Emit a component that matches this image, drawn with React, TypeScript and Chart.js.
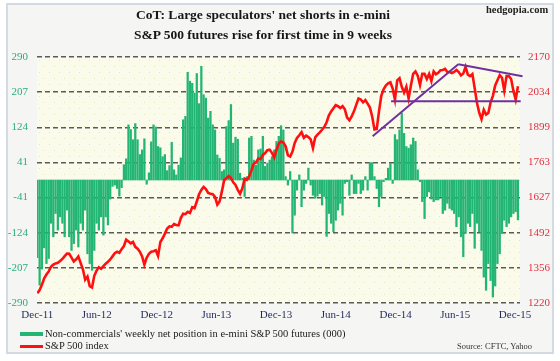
import React, { useEffect, useRef } from 'react';
import { Chart, registerables } from 'chart.js';

Chart.register(...registerables);

// Weekly net position of non-commercials in e-mini S&P 500 futures (000 contracts)
const NET_POSITION: number[] = [
  -183, -248, -210, -160, -197, -185, -102, -134, -79, -118,
  -87, -102, -134, -71, -134, -166, -150, -118, -158, -102,
  -118, -71, -174, -197, -213, -166, -102, -118, -87, -130,
  -87, -106, -45, -15, -12, -20, -38, -18, 36, 50,
  130, 119, 95, 133, 95, 60, 71, 97, -10, 17,
  90, 130, 125, 79, 76, 55, 60, 22, 34, 89,
  24, 12, 35, 52, 142, 150, 254, 233, 228, 205,
  251, 180, 268, 201, 193, 146, 162, 130, 118, 59,
  51, 20, 24, 126, 140, 178, 87, 101, 96, 16,
  4, -39, 8, 99, 103, 47, 35, 71, 73, 103,
  32, 40, 47, 55, 71, 91, 103, 128, 118, 8,
  -12, 20, -125, -83, -24, 12, -63, -24, -8, 28,
  -12, -36, -43, -38, -32, -59, -39, -133, -79, -102,
  -122, -95, -71, -55, -83, -8, -4, -36, 12, -32,
  -32, -8, -32, -24, 8, -24, 41, 41, 8, -20,
  -63, -39, -4, 4, 28, 39, -8, 107, 95, 118,
  158, 110, 79, 75, 83, 99, 91, 24, -4, -51,
  -91, -39, -28, -45, -51, -47, -47, -39, -79, -71,
  -55, -67, -71, -79, -110, -87, -134, -181, -126, -102,
  -110, -79, -161, -102, -122, -166, -229, -260, -197, -237,
  -276, -250, -197, -174, -126, -95, -110, -102, -87, -79,
  -75, -94,
];

// Weekly S&P 500 index
const SP500: number[] = [
  1258, 1270, 1290, 1315, 1330, 1342, 1360, 1368, 1373, 1375,
  1382, 1390, 1401, 1411, 1410, 1395, 1380, 1388, 1400, 1375,
  1350, 1310, 1322, 1285, 1280, 1325, 1345, 1358, 1352, 1362,
  1372, 1379, 1388, 1400, 1412, 1418, 1414, 1428, 1440, 1465,
  1458, 1450, 1456, 1437, 1430, 1418, 1400, 1368, 1395, 1410,
  1418, 1420, 1424, 1402, 1455, 1470, 1488, 1508, 1516, 1514,
  1525, 1521, 1520, 1548, 1565, 1563, 1572, 1568, 1590, 1586,
  1612, 1640, 1657, 1668, 1660, 1645, 1642, 1640, 1630, 1600,
  1612, 1650, 1694, 1702, 1710, 1702, 1686, 1676, 1657, 1642,
  1663, 1700, 1696, 1709, 1732, 1758, 1763, 1778, 1776, 1792,
  1799, 1810, 1812, 1800, 1782, 1812, 1836, 1844, 1840, 1825,
  1790, 1786, 1805, 1838, 1857, 1868, 1880, 1858, 1866, 1861,
  1852, 1818, 1860, 1870, 1879, 1889, 1900, 1918, 1945, 1960,
  1972, 1984, 1980, 1973, 1980, 1968, 1936, 1926, 1941, 1960,
  1985, 2010, 2006, 1995, 2004, 1990, 1975, 1940, 1890, 1892,
  1960, 2020, 2045, 2060, 2068, 2072, 2048, 2005, 2080, 2088,
  2055, 2032, 2055, 2010, 2060, 2105, 2114, 2098, 2062, 2105,
  2105, 2085, 2105, 2077, 2114, 2103, 2109, 2119, 2120, 2124,
  2112, 2112, 2108, 2112, 2120, 2112, 2099, 2106, 2132, 2102,
  2096, 2104, 2050, 1993, 1955, 1930, 1966, 1948, 1954, 1995,
  2020, 2060, 2080, 2100, 2090, 2040, 2096, 2096, 2085, 2040,
  2006, 2057,
];

// x-axis labels and their positions (in weeks from the first observation)
const X_TICK_LABELS = ['Dec-11', 'Jun-12', 'Dec-12', 'Jun-13', 'Dec-13', 'Jun-14', 'Dec-14', 'Jun-15', 'Dec-15'];
const X_TICK_WEEKS = [0, 26.1, 52.4, 78.6, 104.8, 131, 157.3, 183.5, 209.7];

// y-axis tick labels (bottom to top)
const LEFT_TICK_LABELS = ['-290', '-207', '-124', '-41', '41', '124', '207', '290'];
const RIGHT_TICK_LABELS = ['1220', '1356', '1492', '1627', '1763', '1899', '2034', '2170'];
const LEFT_MIN = -290;
const LEFT_MAX = 290;
const RIGHT_MIN = 1220;
const RIGHT_MAX = 2170;

// hand-drawn trend lines on the S&P 500 (week index, index level)
const TREND_RISING: [number, number][] = [[147.2, 1864], [184.8, 2142]];
const TREND_FALLING: [number, number][] = [[184.8, 2142], [213, 2096]];
const TREND_SUPPORT: [number, number][] = [[155.3, 1999], [212.2, 1999]];

const GREEN = '#22B573';
const RED = '#FF1010';
const PURPLE = '#7030A0';
const GRID = '#5A5A5A';
const FONT = "'Liberation Serif', 'Times New Roman', serif";

function evenTicks(labels: string[], min: number, max: number) {
  return labels.map((_, k) => ({ value: min + (k * (max - min)) / (labels.length - 1) }));
}

export default function App() {
  const canvasRef = useRef<HTMLCanvasElement | null>(null);

  useEffect(() => {
    const canvas = canvasRef.current;
    if (!canvas) return;
    Chart.defaults.font.family = FONT;

    const plotDecor = {
      id: 'plotDecor',
      beforeDraw: (chart: any) => {
        const ctx = chart.ctx;
        const a = chart.chartArea;
        ctx.save();
        ctx.fillStyle = '#FBFBEC';
        ctx.fillRect(a.left, a.top, a.right - a.left, a.bottom - a.top);
        ctx.fillStyle = '#E6E6BA';
        let r = 0;
        for (let y = a.top + 3; y < a.bottom; y += 6, r++) {
          for (let x = a.left + 2 + (r % 2) * 5; x < a.right; x += 10) {
            ctx.fillRect(x, y, 1, 1);
          }
        }
        ctx.restore();
      },
    };

    const lineDs = (pts: [number, number][], label: string) => ({
      type: 'line' as const,
      label,
      data: pts.map(([x, y]) => ({ x, y })),
      borderColor: PURPLE,
      backgroundColor: PURPLE,
      borderWidth: 2,
      pointRadius: 0,
      yAxisID: 'y1',
      order: 0,
      clip: false as any,
    });

    const chart = new Chart(canvas, {
      type: 'bar',
      data: {
        datasets: [
          lineDs(TREND_RISING, 'rising trend'),
          lineDs(TREND_FALLING, 'falling trend'),
          lineDs(TREND_SUPPORT, 'support'),
          {
            type: 'line',
            label: 'S&P 500 index',
            data: SP500.map((v, i) => ({ x: i, y: v })),
            borderColor: RED,
            backgroundColor: RED,
            borderWidth: 2.6,
            pointRadius: 0,
            tension: 0,
            yAxisID: 'y1',
            order: 1,
          } as any,
          {
            type: 'bar',
            label: "Non-commercials' weekly net position in e-mini S&P 500 futures (000)",
            data: NET_POSITION.map((v, i) => ({ x: i, y: v })),
            backgroundColor: GREEN,
            borderWidth: 0,
            barThickness: 1.6,
            yAxisID: 'y',
            order: 2,
          } as any,
        ],
      },
      options: {
        responsive: false,
        animation: false,
        events: [],
        layout: { padding: { top: 57, left: 0, right: 0, bottom: 0 } },
        plugins: {
          legend: { display: false },
          title: { display: false },
          tooltip: { enabled: false },
        },
        scales: {
          x: {
            type: 'linear',
            min: -0.15,
            max: 211.9,
            offset: false,
            grid: { display: false, drawTicks: false },
            border: { display: false },
            afterBuildTicks: (s: any) => {
              s.ticks = X_TICK_WEEKS.map((v) => ({ value: v }));
            },
            afterFit: (s: any) => {
              s.height = 58;
            },
            ticks: {
              autoSkip: false,
              maxRotation: 0,
              padding: 6,
              color: '#1F2A5C',
              font: { size: 11, family: FONT },
              callback: (_v: any, i: number) => X_TICK_LABELS[i],
            },
          },
          y: {
            position: 'left',
            min: LEFT_MIN,
            max: LEFT_MAX,
            afterBuildTicks: (s: any) => {
              s.ticks = evenTicks(LEFT_TICK_LABELS, LEFT_MIN, LEFT_MAX);
            },
            afterFit: (s: any) => {
              s.width = 37;
            },
            grid: {
              display: true,
              drawOnChartArea: true,
              drawTicks: false,
              color: GRID,
              lineWidth: 1.5,
            },
            border: { display: false, dash: [5, 3] },
            ticks: {
              padding: 9,
              color: '#2EAD78',
              font: { size: 11, family: FONT },
              callback: (_v: any, i: number) => LEFT_TICK_LABELS[i],
            },
          },
          y1: {
            position: 'right',
            min: RIGHT_MIN,
            max: RIGHT_MAX,
            afterBuildTicks: (s: any) => {
              s.ticks = evenTicks(RIGHT_TICK_LABELS, RIGHT_MIN, RIGHT_MAX);
            },
            afterFit: (s: any) => {
              s.width = 40;
            },
            grid: { display: false, drawTicks: false },
            border: { display: false },
            ticks: {
              padding: 8,
              color: '#E2303E',
              font: { size: 11, family: FONT },
              callback: (_v: any, i: number) => RIGHT_TICK_LABELS[i],
            },
          },
        },
      } as any,
      plugins: [plotDecor],
    });

    return () => chart.destroy();
  }, []);

  const text: React.CSSProperties = { position: 'absolute', fontFamily: FONT, whiteSpace: 'nowrap' };

  return (
    <div style={{ position: 'absolute', left: 0, top: 0, width: 560, height: 361, background: '#FFFFFF', overflow: 'hidden' }}>
      <div
        style={{
          position: 'absolute',
          left: 6,
          top: 3,
          width: 544,
          height: 347,
          border: '2px solid #D3DAE4',
          background: '#F5F5F3',
        }}
      />
      <canvas ref={canvasRef} width={560} height={361} style={{ position: 'absolute', left: 0, top: 0, width: 560, height: 361 }} />
      <div
        style={{
          ...text,
          left: 0,
          width: 526,
          top: 5,
          textAlign: 'center',
          fontWeight: 'bold',
          fontSize: 13.5,
          lineHeight: '20px',
          color: '#161616',
        }}
      >
        <div>CoT: Large speculators' net shorts in e-mini</div>
        <div>S&amp;P 500 futures rise for first time in 9 weeks</div>
      </div>
      <div style={{ ...text, left: 486, top: 4, fontWeight: 'bold', fontSize: 10.5, lineHeight: '12px', color: '#222' }}>hedgopia.com</div>
      <div style={{ position: 'absolute', left: 20, top: 332, width: 23, height: 4, background: GREEN }} />
      <div style={{ ...text, left: 45, top: 328, fontSize: 10.5, lineHeight: '12px', color: '#1a1a1a' }}>
        Non-commercials' weekly net position in e-mini S&amp;P 500 futures (000)
      </div>
      <div style={{ position: 'absolute', left: 20, top: 345, width: 23, height: 2.5, background: RED }} />
      <div style={{ ...text, left: 45, top: 340, fontSize: 10.5, lineHeight: '12px', color: '#1a1a1a' }}>S&amp;P 500 index</div>
      <div style={{ ...text, left: 457, top: 341, fontSize: 8.5, lineHeight: '10px', color: '#333' }}>Source: CFTC, Yahoo</div>
    </div>
  );
}
